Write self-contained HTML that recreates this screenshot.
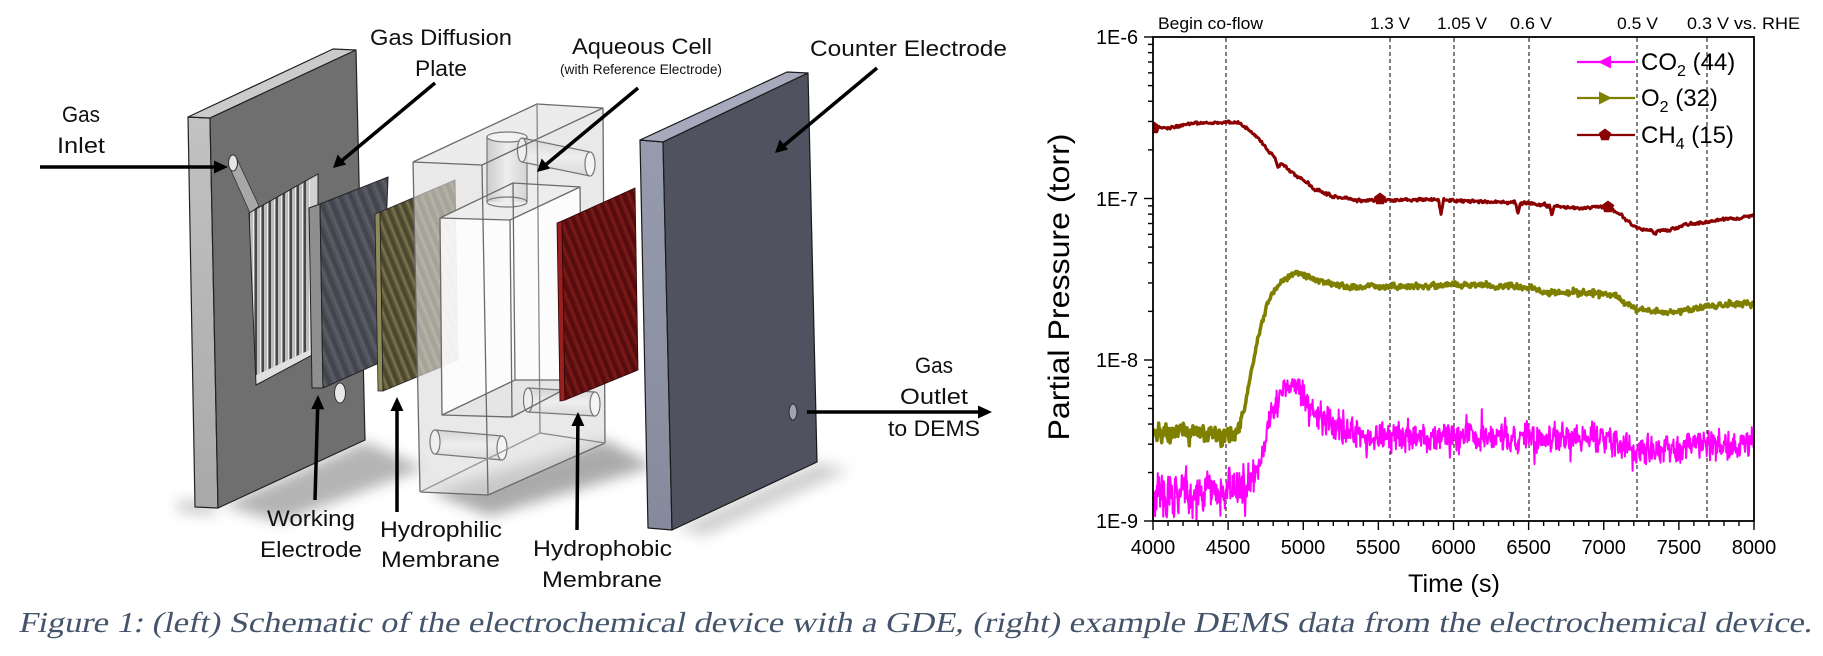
<!DOCTYPE html>
<html><head><meta charset="utf-8">
<style>
html,body{margin:0;padding:0;background:#fff;}
svg{display:block;}
</style></head><body>
<svg id="s" width="1823" height="656" viewBox="0 0 1823 656" xmlns="http://www.w3.org/2000/svg">
<defs>
 <pattern id="ridges" patternUnits="userSpaceOnUse" width="7" height="10" x="250" y="0"><rect width="7" height="10" fill="#484848"/><rect x="0" width="3" height="10" fill="#bdbdbd"/><rect x="3" width="1" height="10" fill="#ececec"/><rect x="4" width="1" height="10" fill="#8a8a8a"/></pattern>
 <pattern id="we" patternUnits="userSpaceOnUse" width="10" height="10" patternTransform="rotate(-22)"><rect width="10" height="10" fill="#50535b"/><rect width="4" height="10" fill="#42454c"/><rect x="7" width="1" height="10" fill="#62656e"/></pattern>
 <pattern id="olive" patternUnits="userSpaceOnUse" width="8" height="8" patternTransform="rotate(-22)"><rect width="8" height="8" fill="#5f5a3a"/><rect width="3" height="8" fill="#4a462e"/><rect x="5" width="1.5" height="8" fill="#7c7652"/></pattern>
 <pattern id="red" patternUnits="userSpaceOnUse" width="8" height="8" patternTransform="rotate(-22)"><rect width="8" height="8" fill="#681212"/><rect width="3" height="8" fill="#540c0c"/><rect x="5" width="1.5" height="8" fill="#7e1c1c"/></pattern>
 <linearGradient id="sideL" x1="0" y1="0" x2="0" y2="1"><stop offset="0" stop-color="#c2c2c2"/><stop offset="1" stop-color="#a9a9a9"/></linearGradient>
 <linearGradient id="sideC" x1="0" y1="0" x2="0" y2="1"><stop offset="0" stop-color="#979bae"/><stop offset="1" stop-color="#858a9c"/></linearGradient>
 <linearGradient id="cyl" x1="0" y1="0" x2="1" y2="0"><stop offset="0" stop-color="#c9c9c9"/><stop offset="0.5" stop-color="#eeeeee"/><stop offset="1" stop-color="#d2d2d2"/></linearGradient>
 <linearGradient id="cylh" x1="0" y1="0" x2="0" y2="1"><stop offset="0" stop-color="#d0d0d0"/><stop offset="0.5" stop-color="#f0f0f0"/><stop offset="1" stop-color="#d6d6d6"/></linearGradient>
 <filter id="blur" x="-50%" y="-50%" width="200%" height="200%"><feGaussianBlur stdDeviation="7"/></filter>
 <clipPath id="recessClip"><polygon points="249,213 318,174 318,352 256,385"/></clipPath>
 <clipPath id="plot"><rect x="1153" y="37" width="601" height="484"/></clipPath>
</defs>

<rect width="1823" height="656" fill="#fff"/>

<!-- ===== shadows ===== -->
<g filter="url(#blur)" opacity="0.55">
 <polygon points="222,505 365,442 425,468 280,522" fill="#777"/>
 <polygon points="176,500 215,503 215,515 180,512" fill="#999"/>
 <polygon points="430,492 605,440 655,466 490,516" fill="#666"/>
 <polygon points="675,528 817,462 850,470 705,536" fill="#aaa"/>
</g>

<!-- ===== left gas diffusion plate ===== -->
<g stroke="#222" stroke-width="1.2" stroke-linejoin="round">
 <polygon points="188,117 210,118 218,508 195,507" fill="url(#sideL)"/>
 <polygon points="188,117 333,49 356,50 210,118" fill="#cbcbcb"/>
 <polygon points="210,118 356,50 365,440 218,508" fill="#6f6f6f"/>
</g>
<polygon points="229,166 237,159 259,206 250,213" fill="#a8a8a8" stroke="#333" stroke-width="0.8"/>
<ellipse cx="233" cy="163" rx="4.5" ry="8" fill="#e4e4e4" stroke="#333" stroke-width="1"/>
<polygon points="249,213 318,174 318,352 256,385" fill="#4a4a4a"/>
<g clip-path="url(#recessClip)">
 <rect x="250" y="170" width="62" height="220" fill="url(#ridges)"/>
 <polygon points="310,178 318,174 318,352 310,356" fill="#d0d0d0"/>
 <polygon points="250,378 318,346 318,352 256,385" fill="#e0e0e0"/>
</g>
<polygon points="249,213 318,174 318,352 256,385" fill="none" stroke="#222" stroke-width="1"/>
<ellipse cx="340" cy="393" rx="5.5" ry="10" fill="#e8e8e8" stroke="#333" stroke-width="1"/>

<!-- ===== working electrode ===== -->
<g stroke="#222" stroke-width="1">
 <polygon points="309,208 320,204 323,388 312,388" fill="#8e8e8e"/>
 <polygon points="320,204 388,177 381,362 323,388" fill="url(#we)"/>
</g>

<!-- ===== hydrophilic membrane ===== -->
<g stroke="#222" stroke-width="0.8">
 <polygon points="375,214 380,212 383,391 378,391" fill="#8f8a5a"/>
 <polygon points="380,212 455,180 458,360 383,391" fill="url(#olive)"/>
</g>

<!-- ===== aqueous cell (transparent) ===== -->
<polygon points="413,162 537,104 603,108 605,443 488,495 420,492" fill="#dcdcdc" fill-opacity="0.62"/>
<polygon points="413,162 537,104 603,108 482,165" fill="#efefef" fill-opacity="0.5"/>
<polygon points="440,218 513,183 580,187 582,380 512,417 442,415" fill="#fff" fill-opacity="0.85"/>
<polygon points="440,218 513,183 580,187 510,220" fill="#e8e8e8" fill-opacity="0.8"/>
<polygon points="442,415 515,380 582,380 512,417" fill="#dedede" fill-opacity="0.8"/>
<rect x="487" y="137" width="40" height="65" fill="url(#cyl)" fill-opacity="0.9"/>
<ellipse cx="507" cy="137" rx="20" ry="5" fill="#f2f2f2" stroke="#777" stroke-width="1.2"/>
<ellipse cx="507" cy="202" rx="20" ry="5" fill="none" stroke="#777" stroke-width="1.2"/>
<line x1="487" y1="137" x2="487" y2="202" stroke="#777" stroke-width="1.2"/>
<line x1="527" y1="137" x2="527" y2="202" stroke="#777" stroke-width="1.2"/>
<g stroke="#777" stroke-width="1.2">
 <polygon points="522,138 590,152 590,176 522,162" fill="url(#cylh)" fill-opacity="0.8" stroke="none"/>
 <line x1="522" y1="138" x2="590" y2="152"/><line x1="522" y1="162" x2="590" y2="176"/>
 <ellipse cx="522" cy="150" rx="4.5" ry="12" fill="#eee"/>
 <ellipse cx="590" cy="164" rx="5" ry="12" fill="#f4f4f4"/>
 <polygon points="528,388 595,392 595,416 528,412" fill="url(#cylh)" fill-opacity="0.8" stroke="none"/>
 <line x1="528" y1="388" x2="595" y2="392"/><line x1="528" y1="412" x2="595" y2="416"/>
 <ellipse cx="528" cy="400" rx="4.5" ry="12" fill="#eee"/>
 <ellipse cx="595" cy="404" rx="5" ry="12" fill="#f4f4f4"/>
 <polygon points="435,430 502,436 502,460 435,454" fill="url(#cylh)" fill-opacity="0.8" stroke="none"/>
 <line x1="435" y1="430" x2="502" y2="436"/><line x1="435" y1="454" x2="502" y2="460"/>
 <ellipse cx="435" cy="442" rx="5" ry="12" fill="#eee"/>
 <ellipse cx="502" cy="448" rx="5" ry="12" fill="#f4f4f4"/>
</g>
<g stroke="#6a6a6a" stroke-width="1.3" fill="none" stroke-linejoin="round">
 <polyline points="413,162 537,104 603,108 482,165 413,162"/>
 <line x1="413" y1="162" x2="420" y2="492"/>
 <line x1="482" y1="165" x2="488" y2="495"/>
 <line x1="603" y1="108" x2="605" y2="443"/>
 <line x1="537" y1="104" x2="540" y2="433" stroke="#888"/>
 <line x1="420" y1="492" x2="488" y2="495"/>
 <line x1="488" y1="495" x2="605" y2="443"/>
 <line x1="540" y1="433" x2="605" y2="443" stroke="#888"/>
 <line x1="420" y1="492" x2="540" y2="433" stroke="#999"/>
 <polygon points="440,218 513,183 515,380 442,415"/>
 <polygon points="510,220 580,187 582,380 512,417"/>
 <line x1="440" y1="218" x2="510" y2="220"/>
 <line x1="513" y1="183" x2="580" y2="187"/>
 <line x1="515" y1="380" x2="582" y2="380"/>
 <line x1="442" y1="415" x2="512" y2="417"/>
</g>

<!-- ===== hydrophobic membrane ===== -->
<g stroke="#2a0505" stroke-width="0.8">
 <polygon points="557,223 562,221 565,400 560,401" fill="#9a2020"/>
 <polygon points="562,221 635,188 638,370 565,400" fill="url(#red)"/>
</g>

<!-- ===== counter electrode ===== -->
<g stroke="#1a1a1a" stroke-width="1.2" stroke-linejoin="round">
 <polygon points="640,140 663,142 672,530 648,528" fill="url(#sideC)"/>
 <polygon points="640,140 787,72 808,73 663,142" fill="#a6aabc"/>
 <polygon points="663,142 808,73 817,462 672,530" fill="#50535f"/>
</g>
<ellipse cx="793" cy="412" rx="4" ry="8" fill="#9fa3b1" stroke="#2a2a2a" stroke-width="1"/>

<!-- ===== arrows ===== -->
<g stroke="#000" stroke-width="3.5">
 <line x1="40" y1="167" x2="220" y2="167"/>
 <line x1="435" y1="83" x2="339" y2="163"/>
 <line x1="638" y1="88" x2="543" y2="167"/>
 <line x1="877" y1="68" x2="781" y2="148"/>
 <line x1="315" y1="500" x2="317.8" y2="403"/>
 <line x1="397" y1="512" x2="397" y2="405"/>
 <line x1="577" y1="530" x2="577.9" y2="420"/>
 <line x1="807" y1="412" x2="984" y2="412"/>
</g>
<g fill="#000">
 <polygon points="228,167 214,160.5 214,173.5"/>
 <polygon points="333,168 337.7,154.5 346.1,164.5"/>
 <polygon points="537,172 541.7,158.5 550.1,168.5"/>
 <polygon points="775,153 779.7,139.5 788.1,149.5"/>
 <polygon points="318,395 311.3,409 324.3,409.4"/>
 <polygon points="397,397 390.5,411 403.5,411"/>
 <polygon points="578,412 571.4,426 584.4,426"/>
 <polygon points="992,412 978,405.5 978,418.5"/>
</g>

<!-- ===== schematic labels ===== -->
<g font-family="'Liberation Sans', Arial, sans-serif" font-size="22" fill="#111">
 <text x="62" y="122" textLength="38" lengthAdjust="spacingAndGlyphs">Gas</text>
 <text x="57" y="153" textLength="48" lengthAdjust="spacingAndGlyphs">Inlet</text>
 <text x="370" y="45" textLength="142" lengthAdjust="spacingAndGlyphs">Gas Diffusion</text>
 <text x="415" y="76" textLength="52" lengthAdjust="spacingAndGlyphs">Plate</text>
 <text x="572" y="54" textLength="140" lengthAdjust="spacingAndGlyphs">Aqueous Cell</text>
 <text x="560" y="74" font-size="13.5" textLength="162" lengthAdjust="spacingAndGlyphs">(with Reference Electrode)</text>
 <text x="810" y="56" textLength="197" lengthAdjust="spacingAndGlyphs">Counter Electrode</text>
 <text x="267" y="526" textLength="88" lengthAdjust="spacingAndGlyphs">Working</text>
 <text x="260" y="557" textLength="102" lengthAdjust="spacingAndGlyphs">Electrode</text>
 <text x="380" y="537" textLength="122" lengthAdjust="spacingAndGlyphs">Hydrophilic</text>
 <text x="381" y="567" textLength="119" lengthAdjust="spacingAndGlyphs">Membrane</text>
 <text x="533" y="556" textLength="139" lengthAdjust="spacingAndGlyphs">Hydrophobic</text>
 <text x="542" y="587" textLength="120" lengthAdjust="spacingAndGlyphs">Membrane</text>
 <text x="915" y="373" textLength="38" lengthAdjust="spacingAndGlyphs">Gas</text>
 <text x="900" y="404" textLength="68" lengthAdjust="spacingAndGlyphs">Outlet</text>
 <text x="888" y="436" textLength="92" lengthAdjust="spacingAndGlyphs">to DEMS</text>
</g>

<!-- ===== chart ===== -->
<g stroke="#000" fill="none">
 <g stroke-width="1" stroke-dasharray="4,3">
  <line x1="1226" y1="38" x2="1226" y2="520"/>
  <line x1="1390" y1="38" x2="1390" y2="520"/>
  <line x1="1454" y1="38" x2="1454" y2="520"/>
  <line x1="1529" y1="38" x2="1529" y2="520"/>
  <line x1="1637" y1="38" x2="1637" y2="520"/>
  <line x1="1707" y1="38" x2="1707" y2="520"/>
 </g>
 <g id="ticks" stroke-width="1.4"></g>
</g>

<g clip-path="url(#plot)" fill="none" stroke-linejoin="round">
 <path id="ch4" stroke="#8B0000" stroke-width="3" d="M1153,128 L1200,123 L1240,123 L1277,160 L1317,190 L1357,200 L1440,200 L1530,204 L1608,207 L1632,225 L1668,231 L1720,220 L1754,216"/>
 <path id="o2" stroke="#808000" stroke-width="3.5" d="M1153,432 L1225,437 L1240,422 L1255,352 L1270,297 L1297,272 L1323,283 L1357,287 L1530,287 L1545,292 L1600,293 L1637,309 L1667,313 L1700,307 L1754,303"/>
 <path id="co2" stroke="#FF00FF" stroke-width="2" d="M1153,492 L1240,488 L1258,466 L1273,407 L1290,385 L1310,405 L1340,430 L1373,437 L1600,437 L1653,452 L1700,443 L1754,446"/>
 <g fill="#8B0000" stroke="none">
  <path transform="translate(1154,128)" d="M0,-6.5 L6.2,-2 L3.8,5.3 L-3.8,5.3 L-6.2,-2 Z"/>
  <path transform="translate(1380,199)" d="M0,-6.5 L6.2,-2 L3.8,5.3 L-3.8,5.3 L-6.2,-2 Z"/>
  <path transform="translate(1608,207)" d="M0,-6.5 L6.2,-2 L3.8,5.3 L-3.8,5.3 L-6.2,-2 Z"/>
 </g>
</g>

<rect x="1153" y="37" width="601" height="484" fill="none" stroke="#000" stroke-width="1.8"/>

<!-- legend -->
<g stroke-width="2.2">
 <line x1="1577" y1="62" x2="1635" y2="62" stroke="#FF00FF"/>
 <polygon points="1598,62 1611,55.5 1611,68.5" fill="#FF00FF"/>
 <line x1="1577" y1="98" x2="1635" y2="98" stroke="#808000"/>
 <polygon points="1612,98 1599,91.5 1599,104.5" fill="#808000"/>
 <line x1="1577" y1="135" x2="1635" y2="135" stroke="#8B0000"/>
 <path transform="translate(1605,135)" d="M0,-6.5 L6.2,-2 L3.8,5.3 L-3.8,5.3 L-6.2,-2 Z" fill="#8B0000"/>
</g>
<g font-family="'Liberation Sans', Arial, sans-serif" font-size="24" fill="#000">
 <text x="1641" y="70">CO<tspan font-size="16" dy="6">2</tspan><tspan dy="-6"> (44)</tspan></text>
 <text x="1641" y="106">O<tspan font-size="16" dy="6">2</tspan><tspan dy="-6"> (32)</tspan></text>
 <text x="1641" y="143">CH<tspan font-size="16" dy="6">4</tspan><tspan dy="-6"> (15)</tspan></text>
</g>

<!-- top annotations -->
<g font-family="'Liberation Sans', Arial, sans-serif" font-size="17" fill="#000">
 <text x="1158" y="29" textLength="105" lengthAdjust="spacingAndGlyphs">Begin co-flow</text>
 <text x="1370" y="29" textLength="40" lengthAdjust="spacingAndGlyphs">1.3 V</text>
 <text x="1437" y="29" textLength="50" lengthAdjust="spacingAndGlyphs">1.05 V</text>
 <text x="1510" y="29" textLength="42" lengthAdjust="spacingAndGlyphs">0.6 V</text>
 <text x="1617" y="29" textLength="41" lengthAdjust="spacingAndGlyphs">0.5 V</text>
 <text x="1687" y="29" textLength="113" lengthAdjust="spacingAndGlyphs">0.3 V vs. RHE</text>
</g>

<g font-family="'Liberation Sans', Arial, sans-serif" font-size="20" fill="#000" text-anchor="end">
 <text x="1138" y="44" textLength="42" lengthAdjust="spacingAndGlyphs">1E-6</text>
 <text x="1138" y="206" textLength="42" lengthAdjust="spacingAndGlyphs">1E-7</text>
 <text x="1138" y="367" textLength="42" lengthAdjust="spacingAndGlyphs">1E-8</text>
 <text x="1138" y="528" textLength="42" lengthAdjust="spacingAndGlyphs">1E-9</text>
</g>
<g font-family="'Liberation Sans', Arial, sans-serif" font-size="20" fill="#000" text-anchor="middle">
 <text x="1153" y="554">4000</text>
 <text x="1228" y="554">4500</text>
 <text x="1303" y="554">5000</text>
 <text x="1378" y="554">5500</text>
 <text x="1453.5" y="554">6000</text>
 <text x="1528.6" y="554">6500</text>
 <text x="1603.7" y="554">7000</text>
 <text x="1678.9" y="554">7500</text>
 <text x="1754" y="554">8000</text>
</g>
<text x="1408" y="592" font-family="'Liberation Sans', Arial, sans-serif" font-size="25" textLength="92" lengthAdjust="spacingAndGlyphs">Time (s)</text>
<text transform="translate(1069,287) rotate(-90)" text-anchor="middle" font-family="'Liberation Sans', Arial, sans-serif" font-size="30" textLength="307" lengthAdjust="spacingAndGlyphs">Partial Pressure (torr)</text>

<!-- caption -->
<g transform="translate(0,632) skewX(-12)">
<text x="18" y="0" font-family="'Liberation Serif', 'Times New Roman', 'Noto Serif CJK SC', serif" font-size="29" fill="#44546A" textLength="1794" lengthAdjust="spacingAndGlyphs">Figure 1: (left) Schematic of the electrochemical device with a GDE, (right) example DEMS data from the electrochemical device.</text>
</g>
</svg>

<script>
(function(){
var NS="http://www.w3.org/2000/svg";
var tg=document.getElementById("ticks");
function ln(x1,y1,x2,y2){var l=document.createElementNS(NS,"line");l.setAttribute("x1",x1);l.setAttribute("y1",y1);l.setAttribute("x2",x2);l.setAttribute("y2",y2);tg.appendChild(l);}
var dec=[37,198.5,360,521];
for(var d=0;d<3;d++){
  ln(1144,dec[d],1153,dec[d]);
  for(var k=2;k<=9;k++){var y=dec[d+1]-Math.log10(k)*(dec[d+1]-dec[d]);ln(1148,y,1153,y);}
}
ln(1144,521,1153,521);
for(var t=4000;t<=8000;t+=100){var x=1153+(t-4000)*0.15025;if(t%500===0)ln(x,521,x,530);else ln(x,521,x,526);}

function rng(a){return function(){a|=0;a=a+0x6D2B79F5|0;var t=Math.imul(a^a>>>15,1|a);t=t+Math.imul(t^t>>>7,61|t)^t;return((t^t>>>14)>>>0)/4294967296;};}
function interp(kp,x){if(x<=kp[0][0])return kp[0][1];for(var i=0;i<kp.length-1;i++){if(x<=kp[i+1][0]){var f=(x-kp[i][0])/(kp[i+1][0]-kp[i][0]);return kp[i][1]+f*(kp[i+1][1]-kp[i][1]);}}return kp[kp.length-1][1];}
function build(kp,amp,step,seed,spk,sm,dips){
  var r=rng(seed),s="",lf=0;
  for(var x=1153.3;x<=1754;x+=step){
    lf=lf*sm+(r()-0.5)*2*(1-sm);
    var a=amp(x);
    var y=interp(kp,x)+a*(0.6*(r()-0.5)*2+1.3*lf);
    if(r()<spk)y+=a*(r()-0.5)*2.4;
    if(dips){for(var j=0;j<dips.length;j++){var dd=Math.abs(x-dips[j][0]);if(dd<2.5)y+=dips[j][1]*(1-dd/2.5);}}
    y=Math.max(36,Math.min(523,y));
    s+=(s?"L":"M")+x.toFixed(1)+" "+y.toFixed(1);
  }
  return s;
}
var CO2=[[1153,492],[1200,491],[1240,488],[1250,483],[1258,466],[1265,442],[1273,407],[1282,392],[1290,385],[1300,389],[1310,405],[1320,420],[1340,430],[1373,437],[1440,436],[1500,437],[1600,437],[1627,446],[1653,452],[1680,448],[1700,443],[1754,446]];
var O2=[[1153,432],[1200,434],[1225,437],[1235,428],[1240,422],[1245,405],[1250,377],[1255,352],[1262,322],[1270,297],[1280,283],[1297,272],[1310,278],[1323,283],[1357,287],[1390,287],[1453,285],[1500,286],[1530,287],[1545,292],[1600,293],[1615,296],[1625,303],[1637,309],[1667,313],[1700,307],[1754,303]];
var CH4=[[1153,128],[1170,127],[1200,123],[1240,123],[1255,135],[1277,160],[1300,178],[1317,190],[1335,197],[1357,200],[1440,200],[1500,202],[1530,204],[1580,208],[1608,207],[1620,214],[1632,225],[1645,230],[1668,231],[1685,225],[1720,220],[1754,216]];
document.getElementById("co2").setAttribute("d",build(CO2,function(x){return x<1255?19:(x<1300?9:12.5);},0.45,12345,0.08,0.45,null));
document.getElementById("o2").setAttribute("d",build(O2,function(x){return x<1242?9:2.6;},0.6,777,0.06,0.55,null));
document.getElementById("ch4").setAttribute("d",build(CH4,function(x){return 1.6;},0.7,4242,0.0,0.6,[[1278,8],[1441,14],[1518,10],[1552,10],[1313,3],[1655,4]]));
})();
</script>
</body></html>
